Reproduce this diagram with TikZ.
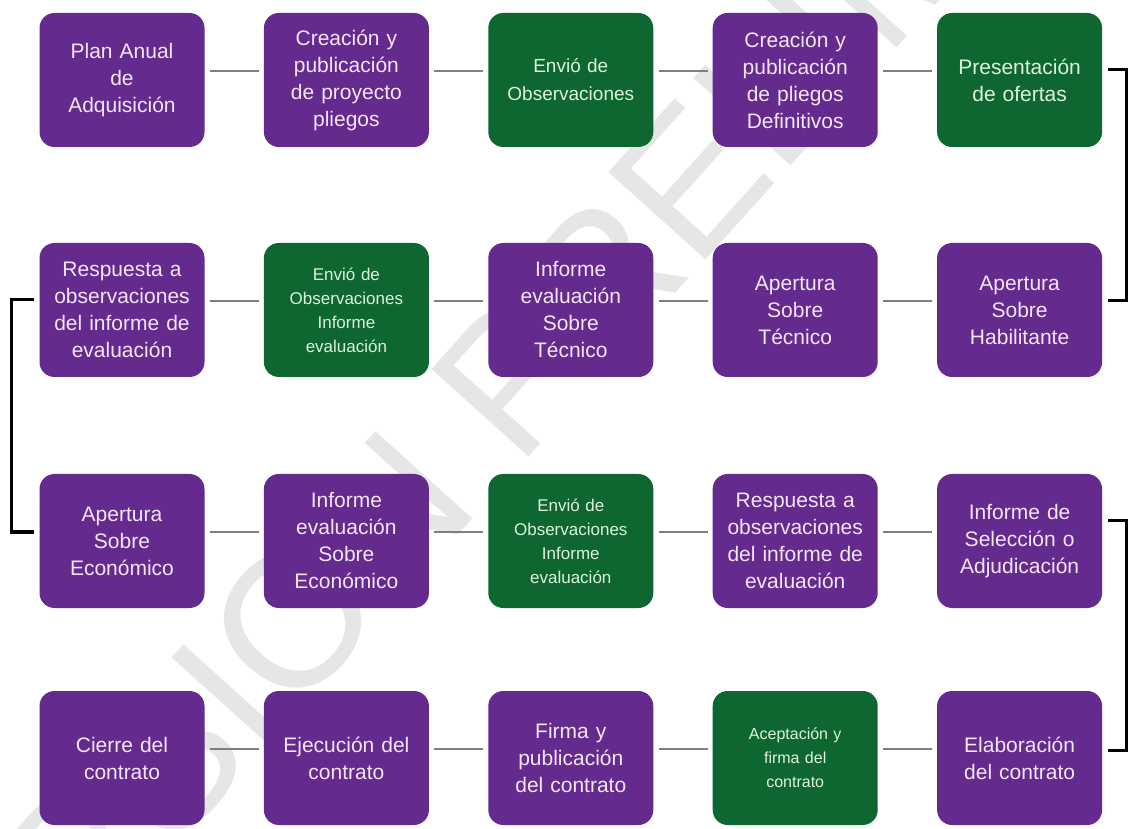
\documentclass[tikz,border=0pt]{standalone}
\usepackage{fontspec}
\setmainfont{Liberation Sans}
\usetikzlibrary{positioning}

\definecolor{procpurple}{HTML}{652A8E}
\definecolor{procgreen}{HTML}{0E6630}
\definecolor{purpletext}{HTML}{F3E6F6}
\definecolor{greentext}{HTML}{DDF3DC}
\definecolor{linkgray}{HTML}{7F7F7F}
\definecolor{markgray}{HTML}{E6E6E6}

\begin{document}
\begin{tikzpicture}[x=1pt, y=1pt,
    stage/.style={rectangle, draw=none, rounded corners=15pt, fill=procpurple,
        minimum width=165pt, minimum height=134pt, inner sep=0pt,
        text width=160pt, align=center, text=purpletext,
        font=\fontsize{21}{27}\selectfont},
    review/.style={stage, fill=procgreen, text=greentext,
        font=\fontsize{17}{24}\selectfont},
    link/.style={draw=linkgray, line width=1.8pt, shorten >=5pt, shorten <=5pt},
    bracket/.style={draw=black, line width=3pt},
    node distance=59pt
]
\useasboundingbox (0,0) rectangle (1132,828);

% watermark
\begin{scope}
\clip (0,0) rectangle (1132,828);
\node[rotate=48, text=markgray, font=\fontsize{190}{190}\selectfont] (mark) at (555,498) {VERSION PRELIMINAR};
\end{scope}

\node[stage] (pa) at (122,748) {Plan Anual\\de\\Adquisición};
\node[stage, right=of pa] (cp) {Creación y\\publicación\\de proyecto\\pliegos};
\node[review, right=of cp, font=\fontsize{19}{28}\selectfont] (eo1) {Envió de\\Observaciones};
\node[stage, right=of eo1] (cd) {Creación y\\publicación\\de pliegos\\Definitivos};
\node[review, right=of cd, font=\fontsize{21}{27}\selectfont] (po) {Presentación\\de ofertas};

\node[stage] (ro1) at (122,518) {Respuesta a\\observaciones\\del informe de\\evaluación};
\node[review, right=of ro1] (eo2) {Envió de\\Observaciones\\Informe\\evaluación};
\node[stage, right=of eo2] (iet) {Informe\\evaluación\\Sobre\\Técnico};
\node[stage, right=of iet] (at) {Apertura\\Sobre\\Técnico};
\node[stage, right=of at] (ah) {Apertura\\Sobre\\Habilitante};

\node[stage] (ae) at (122,287) {Apertura\\Sobre\\Económico};
\node[stage, right=of ae] (iee) {Informe\\evaluación\\Sobre\\Económico};
\node[review, right=of iee] (eo3) {Envió de\\Observaciones\\Informe\\evaluación};
\node[stage, right=of eo3] (ro2) {Respuesta a\\observaciones\\del informe de\\evaluación};
\node[stage, right=of ro2] (sel) {Informe de\\Selección o\\Adjudicación};

\node[stage] (ci) at (122,70) {Cierre del\\contrato};
\node[stage, right=of ci] (ej) {Ejecución del\\contrato};
\node[stage, right=of ej] (fp) {Firma y\\publicación\\del contrato};
\node[review, right=of fp, font=\fontsize{16}{24}\selectfont] (af) {Aceptación y\\firma del\\contrato};
\node[stage, right=of af] (el) {Elaboración\\del contrato};

\foreach \a/\b in {pa/cp, cp/eo1, eo1/cd, cd/po, ro1/eo2, eo2/iet, iet/at, at/ah,
    ae/iee, iee/eo3, eo3/ro2, ro2/sel, ci/ej, ej/fp, fp/af, af/el}
  \draw[link] ([yshift=9pt]\a.east) -- ([yshift=9pt]\b.west);

\draw[bracket] ([xshift=6pt,yshift=10pt]po.east) -- ++(18pt,0) |- ([xshift=6pt,yshift=9pt]ah.east);
\draw[bracket] ([xshift=-5pt,yshift=10pt]ro1.west) -- ++(-23pt,0) |- ([xshift=-5pt,yshift=9pt]ae.west);
\draw[bracket] ([xshift=6pt,yshift=20pt]sel.east) -- ++(18pt,0) |- ([xshift=6pt,yshift=8pt]el.east);
\end{tikzpicture}
\end{document}
